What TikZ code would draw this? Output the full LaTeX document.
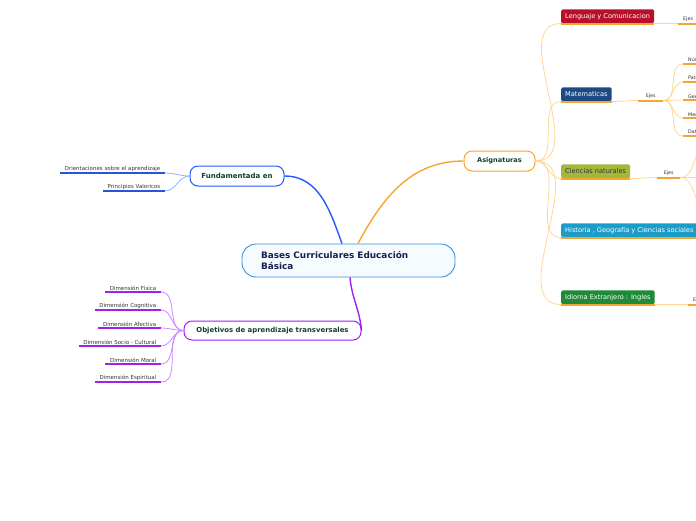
\documentclass[tikz,border=0pt]{standalone}
\usepackage{fontspec}
\setmainfont{DejaVu Sans}
\usetikzlibrary{calc}
\definecolor{cblue}{RGB}{59,143,214}
\definecolor{cfill}{RGB}{246,251,255}
\definecolor{navy}{RGB}{22,32,80}
\definecolor{dgreen}{RGB}{13,64,48}
\definecolor{mblue}{RGB}{34,90,255}
\definecolor{lblue}{RGB}{144,180,255}
\definecolor{ublue}{RGB}{38,86,216}
\definecolor{morange}{RGB}{247,165,49}
\definecolor{lorange}{RGB}{255,214,150}
\definecolor{mpurple}{RGB}{160,32,240}
\definecolor{lpurple}{RGB}{204,136,255}
\definecolor{lblgray}{RGB}{51,51,51}
\definecolor{clen}{RGB}{184,16,42}
\definecolor{cmat}{RGB}{29,74,133}
\definecolor{ccie}{RGB}{162,184,58}
\definecolor{chis}{RGB}{26,157,200}
\definecolor{cidi}{RGB}{30,139,56}
\begin{document}
\begin{tikzpicture}[x=1pt,y=1pt,
  central/.style={draw=cblue,line width=0.9pt,fill=cfill,rounded corners=14pt,
    minimum width=213pt,minimum height=33pt,text width=175pt,inner xsep=19pt,
    align=left,font=\fontsize{8.9}{11}\selectfont\bfseries,text=navy},
  mainbox/.style={fill=white,line width=1pt,rounded corners=8pt,minimum height=20pt,
    inner xsep=0pt,text=dgreen,font=\fontsize{7}{8}\selectfont\bfseries},
  lbl/.style={inner xsep=4.5pt,inner ysep=1.6pt,text=lblgray,font=\fontsize{5.5}{6}\selectfont},
  subj/.style={rounded corners=1.5pt,minimum height=14pt,inner xsep=4pt,inner ysep=0pt,
    text=white,font=\fontsize{6.6}{7}\selectfont},
  ejes/.style={inner xsep=5pt,inner ysep=1.6pt,text=lblgray,font=\fontsize{4.8}{6}\selectfont},
  bul/.style={draw=ublue,line width=1.8pt},
  pul/.style={draw=mpurple,line width=1.8pt},
  oul/.style={draw=morange,line width=2pt},
  bcon/.style={draw=lblue,line width=0.8pt},
  pcon/.style={draw=lpurple,line width=0.8pt},
  ocon/.style={draw=lorange,line width=0.8pt}
]
\useasboundingbox (0,0) rectangle (696,-520);
\clip (0,0) rectangle (696,-520);

% main nodes
\node[central] (c) at (348.5,-260.5) {Bases Curriculares Educación\\Básica};
\node[mainbox,draw=mblue,minimum width=94pt] (f) at (237,-176) {Fundamentada en};
\node[mainbox,draw=morange,minimum width=71pt,font=\fontsize{6.6}{8}\selectfont\bfseries] (a) at (499.5,-161) {Asignaturas};
\node[mainbox,draw=mpurple,minimum width=177pt,minimum height=19pt,font=\fontsize{6.9}{8}\selectfont\bfseries] (o) at (272.5,-330.5) {Objetivos de aprendizaje transversales};

% main connectors
\draw[mblue,line width=1.4pt] (f.east) to[out=0,in=110] ([xshift=-6.5pt]c.north);
\draw[morange,line width=1.4pt] ([xshift=9.5pt]c.north) to[out=62,in=180] (a.west);
\draw[mpurple,line width=1.4pt] ([xshift=1.5pt]c.south) to[out=-85,in=95] (o.east);

% Fundamentada children
\node[lbl,anchor=south east] (f1) at (165,-173) {Orientaciones sobre el aprendizaje};
\node[lbl,anchor=south east] (f2) at (165,-191) {Principios Valoricos};
\foreach \n in {f1,f2}{
  \draw[bul] (\n.south west) -- (\n.south east);
  \draw[bcon] (f.west) to[out=180,in=0] (\n.south east);
}

% Objetivos children
\node[lbl,anchor=south east] (d1) at (161,-292) {Dimensión Física};
\node[lbl,anchor=south east] (d2) at (161,-310) {Dimensión Cognitiva};
\node[lbl,anchor=south east] (d3) at (161,-328) {Dimensión Afectiva};
\node[lbl,anchor=south east] (d4) at (161,-346) {Dimensión Socio - Cultural};
\node[lbl,anchor=south east] (d5) at (161,-364) {Dimensión Moral};
\node[lbl,anchor=south east] (d6) at (161,-382) {Dimensión Espiritual};
\foreach \n in {d1,d2,d3,d4,d5,d6}{
  \draw[pul] (\n.south west) -- (\n.south east);
  \draw[pcon] (o.west) to[out=180,in=0] (\n.south east);
}

% Asignaturas children
\node[subj,fill=clen,anchor=south west] (s1) at (561,-23.5) {Lenguaje y Comunicacion};
\node[subj,fill=cmat,anchor=south west] (s2) at (561,-101.5) {Matematicas};
\node[subj,fill=ccie,anchor=south west,text=lblgray] (s3) at (561,-178.5) {Ciencias naturales};
\node[subj,fill=chis,anchor=south west] (s4) at (561,-237.5) {Historia , Geografía y Ciencias sociales};
\node[subj,fill=cidi,anchor=south west] (s5) at (561,-304.5) {Idioma Extranjero : Ingles};
\foreach \n in {s1,s2,s3,s4,s5}{
  \draw[ocon] (a.east) to[out=0,in=180] (\n.south west);
}

% Ejes nodes
\node[ejes,anchor=south west] (e1) at (678,-23.5) {Ejes};
\node[ejes,anchor=south west,minimum width=25pt] (e2) at (638,-100.5) {Ejes};
\node[ejes,anchor=south west,minimum width=23pt] (e3) at (657,-177.5) {Ejes};
\node[ejes,anchor=south west] (e5) at (688,-304.5) {Ejes};
\draw[ocon] (s1.south east) -- (e1.south west);
\draw[ocon] (s2.south east) to[out=0,in=180] (e2.south west);
\draw[ocon] (s3.south east) to[out=0,in=180] (e3.south west);
\draw[ocon] (s5.south east) to[out=0,in=180] (e5.south west);
\foreach \n in {s1,s2,s3,s4,s5,e1,e2,e3,e5}{
  \draw[oul] (\n.south west) -- (\n.south east);
}

% Matematicas axes
\node[ejes,anchor=south west] (m1) at (683,-64) {Números y operaciones};
\node[ejes,anchor=south west] (m2) at (683,-82) {Patrones y álgebra};
\node[ejes,anchor=south west] (m3) at (683,-100) {Geometría};
\node[ejes,anchor=south west] (m4) at (683,-118) {Medición};
\node[ejes,anchor=south west] (m5) at (683,-136) {Datos y probabilidades};
\foreach \n in {m1,m2,m3,m4,m5}{
  \draw[ocon] (e2.south east) to[out=0,in=180] (\n.south west);
  \draw[oul] (\n.south west) -- (\n.south east);
}

% Ciencias naturales axes (beyond the edge)
\coordinate (k1) at (708,-146);
\coordinate (k2) at (708,-177.5);
\coordinate (k3) at (708,-208);
\foreach \n in {k1,k2,k3}{
  \draw[ocon] (e3.south east) to[out=0,in=180] (\n);
}
\end{tikzpicture}
\end{document}
